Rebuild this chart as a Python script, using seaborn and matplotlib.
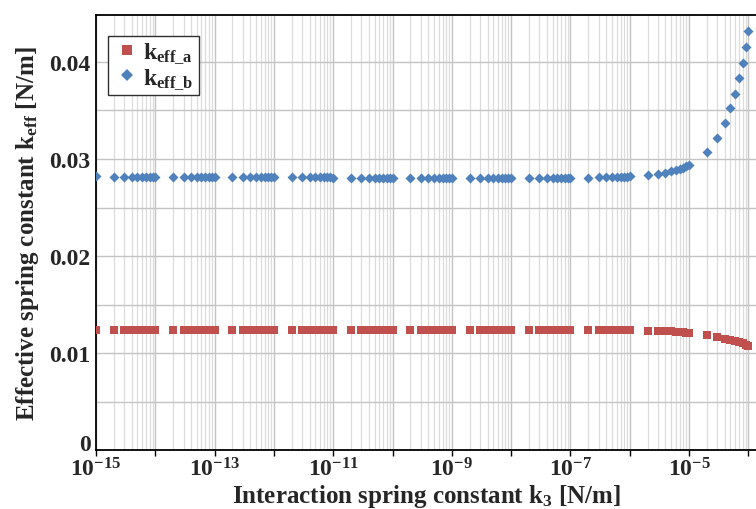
import numpy as np
import pandas as pd
import matplotlib
matplotlib.use("Agg")
import matplotlib.pyplot as plt
import matplotlib.ticker as mticker
from matplotlib.lines import Line2D
import seaborn as sns

# ---------------- data ----------------
mantissas = [1, 2, 3, 4, 5, 6, 7, 8, 9]
exponents = list(range(-15, -4))          # decades 1e-15 ... 1e-5 (9 points each)
last_point = [1e-4]

# k_eff_b per decade
keff_b_const = {
    -15: [0.02828, 0.02818, 0.02818, 0.02818, 0.02818, 0.02818, 0.02818, 0.02818, 0.02818],
    -14: [0.02816, 0.02814, 0.02814, 0.02814, 0.02814, 0.02814, 0.02814, 0.02814, 0.02814],
    -13: [0.02812, 0.02812, 0.02812, 0.02812, 0.02812, 0.02812, 0.02812, 0.02812, 0.02812],
    -12: [0.02810, 0.02810, 0.02810, 0.02810, 0.02810, 0.02810, 0.02810, 0.02810, 0.02810],
    -11: [0.02808, 0.02808, 0.02808, 0.02808, 0.02808, 0.02808, 0.02808, 0.02808, 0.02808],
    -10: [0.02806, 0.02806, 0.02806, 0.02806, 0.02806, 0.02806, 0.02806, 0.02806, 0.02806],
    -9:  [0.02805, 0.02805, 0.02805, 0.02805, 0.02805, 0.02805, 0.02805, 0.02805, 0.02805],
    -8:  [0.02805, 0.02805, 0.02805, 0.02805, 0.02805, 0.02805, 0.02805, 0.02805, 0.02805],
    -7:  [0.02805, 0.02808, 0.02810, 0.02812, 0.02813, 0.02815, 0.02816, 0.02817, 0.02818],
    -6:  [0.02820, 0.02831, 0.02845, 0.02856, 0.02872, 0.02882, 0.02893, 0.02907, 0.02924],
    -5:  [0.02941, 0.03072, 0.03220, 0.03371, 0.03522, 0.03670, 0.03831, 0.03990, 0.04151],
}
keff_b_last = [0.04320]

keff_a_const = {
    -15: [0.01240] * 9,
    -14: [0.01240] * 9,
    -13: [0.01240] * 9,
    -12: [0.01240] * 9,
    -11: [0.01240] * 9,
    -10: [0.01240] * 9,
    -9:  [0.01240] * 9,
    -8:  [0.01240] * 9,
    -7:  [0.01240, 0.01240, 0.01240, 0.01240, 0.01240, 0.01240, 0.01240, 0.01240, 0.01240],
    -6:  [0.01236, 0.01229, 0.01227, 0.01224, 0.01222, 0.01218, 0.01215, 0.01212, 0.01210],
    -5:  [0.01209, 0.01189, 0.01168, 0.01147, 0.01130, 0.01120, 0.01109, 0.01099, 0.01086],
}
keff_a_last = [0.01075]

label_a = r"$k_{eff\_a}$"
label_b = r"$k_{eff\_b}$"

xtick_vals = [1e-15, 1e-14, 1e-13, 1e-12, 1e-11, 1e-10, 1e-9, 1e-8, 1e-7, 1e-6, 1e-5, 1e-4]
xtick_labels = [r"$10^{-15}$", "", r"$10^{-13}$", "", r"$10^{-11}$", "", r"$10^{-9}$", "",
                r"$10^{-7}$", "", r"$10^{-5}$", ""]
ytick_vals = [0, 0.01, 0.02, 0.03, 0.04]
ytick_labels = ["0", "0.01", "0.02", "0.03", "0.04"]

# ---------------- build table ----------------
k3 = []
va = []
vb = []
for e in exponents:
    for m, a, b in zip(mantissas, keff_a_const[e], keff_b_const[e]):
        k3.append(m * 10.0 ** e)
        va.append(a)
        vb.append(b)
k3 += last_point
va += keff_a_last
vb += keff_b_last

df_a = pd.DataFrame({"k3": k3, "keff": va, "series": label_a})
df_b = pd.DataFrame({"k3": k3, "keff": vb, "series": label_b})

# ---------------- style ----------------
sns.set_theme(style="white")
plt.rcParams["font.family"] = ["Liberation Serif", "DejaVu Serif"]
plt.rcParams["font.weight"] = "bold"
plt.rcParams["mathtext.fontset"] = "custom"
plt.rcParams["mathtext.rm"] = "Liberation Serif"
plt.rcParams["mathtext.it"] = "Liberation Serif:italic"
plt.rcParams["mathtext.bf"] = "Liberation Serif:bold"
plt.rcParams["mathtext.default"] = "bf"

fig = plt.figure(figsize=(7.56, 5.10), dpi=100)
W, H = 756, 510
left_px, right_px, top_px, bottom_px = 96, 756, 16, 451
ax = fig.add_axes([left_px / W, 1 - bottom_px / H, (right_px - left_px) / W,
                   (bottom_px - top_px) / H])

red = "#C0504D"
blue = "#4F81BD"

sns.scatterplot(data=df_a, x="k3", y="keff", color=red, marker="s",
                s=36, linewidth=0, ax=ax, legend=False, zorder=3)
sns.scatterplot(data=df_b, x="k3", y="keff", color=blue, marker="D",
                s=26, linewidth=0, ax=ax, legend=False, zorder=3)

ax.set_xscale("log")
decades_px = 59.3
xmax = 10 ** (-15 + (right_px - left_px) / decades_px)
ax.set_xlim(1e-15, xmax)
ax.set_ylim(0, (bottom_px - top_px) / 9700)

ax.set_xticks(xtick_vals)
ax.set_xticklabels(xtick_labels)
ax.xaxis.set_minor_locator(mticker.LogLocator(base=10, subs=np.arange(2, 10), numticks=100))
ax.xaxis.set_minor_formatter(mticker.NullFormatter())
ax.set_yticks(ytick_vals)
ax.set_yticklabels(ytick_labels)
ax.yaxis.set_minor_locator(mticker.MultipleLocator(0.005))

ax.tick_params(axis="x", which="major", direction="out", length=4, width=1,
               color="black", labelsize=17, pad=1, bottom=True)
ax.tick_params(axis="x", which="minor", length=0)
ax.tick_params(axis="y", which="both", length=0, labelsize=17, pad=4)
for lab in ax.get_xticklabels() + ax.get_yticklabels():
    lab.set_fontweight("bold")
# the "0" label sits just above the x axis, as in the reference
ax.get_yticklabels()[0].set_verticalalignment("baseline")

ax.grid(True, which="major", axis="x", color="#c4c4c4", linewidth=1.0)
ax.grid(True, which="minor", axis="x", color="#dcdcdc", linewidth=0.9)
ax.grid(True, which="both", axis="y", color="#c4c4c4", linewidth=1.0)
ax.set_axisbelow(True)

for side in ["left", "bottom", "top"]:
    ax.spines[side].set_color("black")
    ax.spines[side].set_linewidth(1.3)
ax.spines["right"].set_visible(False)

ax.set_xlabel(r"Interaction spring constant k$_3$ [N/m]", fontsize=18,
              fontweight="bold", labelpad=1)
ax.set_ylabel(r"Effective spring constant k$_{eff}$ [N/m]", fontsize=18,
              fontweight="bold", labelpad=6)

# legend
handles = [
    Line2D([], [], linestyle="none", marker="s", markersize=6.5, color=red, markeredgewidth=0),
    Line2D([], [], linestyle="none", marker="D", markersize=6, color=blue, markeredgewidth=0),
]
leg = ax.legend(handles, [label_a, label_b], loc="upper left",
                bbox_to_anchor=((108 - left_px) / (right_px - left_px),
                                (bottom_px - 37) / (bottom_px - top_px)),
                borderaxespad=0, fontsize=17, frameon=True, fancybox=False,
                handletextpad=0.1, handlelength=1.2, borderpad=0.2, labelspacing=0.05)
leg.get_frame().set_edgecolor("#303030")
leg.get_frame().set_linewidth(1.0)
leg.get_frame().set_facecolor("white")
leg.get_frame().set_alpha(1)

fig.savefig("out.png", dpi=100)
